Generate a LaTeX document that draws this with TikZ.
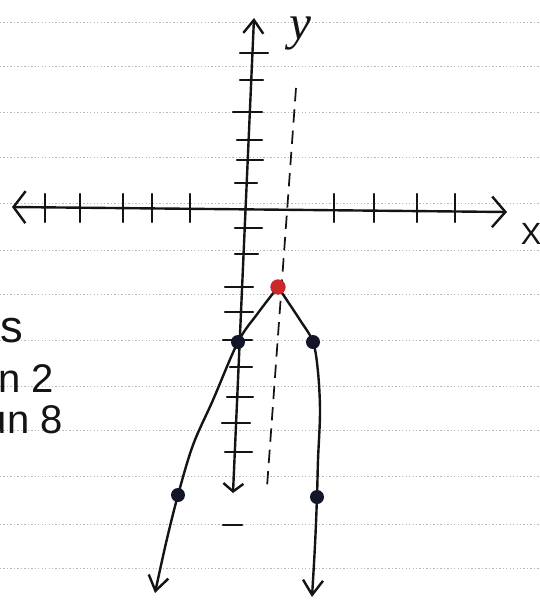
\documentclass[tikz,border=0pt]{standalone}
\usepackage{fontspec}
\setmainfont{Liberation Sans}
\newfontfamily\yfont{Liberation Serif}
\usetikzlibrary{arrows.meta}
\definecolor{inkc}{RGB}{20,20,22}
\definecolor{redpt}{RGB}{205,40,40}
\definecolor{navypt}{RGB}{18,22,40}
\begin{document}
\begin{tikzpicture}[x=0.75pt,y=-0.75pt,
  ink/.style={inkc, line width=1.8pt, line cap=round, line join=round},
  tickmark/.style={inkc, line width=1.6pt, line cap=round},
  paperline/.style={black!28, line width=0.7pt, dash pattern=on 1pt off 1.6pt},
  dashline/.style={inkc, line width=1.3pt, dash pattern=on 10pt off 6pt},
  dot/.style={circle, inner sep=0pt, minimum size=10.5pt},
  hand/.style={inkc, inner sep=0pt}
]
\useasboundingbox (0,0) rectangle (540,601);
\clip (0,0) rectangle (540,601);
\fill[white] (0,0) rectangle (540,601);

% lined paper
\foreach \yy in {22,66,112,157,203,250,294,340,386,430,476,524,568}
  \draw[paperline] (0,\yy) -- (540,\yy);

% axes
\coordinate (xl) at (12,207);
\coordinate (xr) at (507,212);
\coordinate (yt) at (254,18);
\coordinate (yb) at (233,493);
\draw[ink, {Straight Barb[length=9pt,width=24pt]}-{Straight Barb[length=10pt,width=23pt]}] (xl) -- (xr);
\draw[ink, {Straight Barb[length=6pt,width=15pt]}-{Straight Barb[length=10pt,width=15pt]}] (yb) -- (yt);

% x ticks
\foreach \xx in {45,80,123,152,190,334,374,417,455}
  \draw[tickmark] (\xx,194) -- (\xx,222);

% y ticks
\foreach \yy/\xa/\xb in {53/240/268, 80/240/263, 112/233/262, 140/237/262, 160/237/263, 183/235/257, 228/235/262, 254/235/258, 287/225/253, 312/225/253, 340/223/252, 367/230/252, 397/227/253, 423/222/250, 452/225/252}
  \draw[tickmark] (\xa,\yy) -- (\xb,\yy);

% axis of symmetry
\coordinate (dt) at (296,88);
\coordinate (db) at (267,487);
\draw[dashline] (dt) -- (db);

% labels
\node[hand, anchor=base] (ylab) at (300,39) {\fontsize{37}{37}\selectfont\yfont\itshape y};
\node[hand] (xlab) at (531,234) {\fontsize{23}{24}\selectfont X};
\node[hand, anchor=base west] (stxt) at (0,342) {\fontsize{34}{36}\selectfont s};
\node[hand, anchor=base west] (ntxt) at (-2,392) {\fontsize{30}{32}\selectfont n 2};
\node[hand, anchor=base east] (utxt) at (63,433) {\fontsize{30}{32}\selectfont un 8};
\draw[inkc, line width=2.2pt, line cap=round] (223,525) -- (242,525);

% points
\coordinate (v) at (278,287);
\coordinate (pa) at (238,342);
\coordinate (pb) at (313,342);
\coordinate (pc) at (178,495);
\coordinate (pd) at (317,497);
\coordinate (la) at (155,593);
\coordinate (ra) at (312,597);

% branches
\draw[ink, -{Straight Barb[length=11pt,width=15pt]}] plot[smooth, tension=0.55]
  coordinates {(v) (258,313) (pa) (213,400) (193,445) (pc) (166,543) (la)};
\draw[ink, -{Straight Barb[length=11pt,width=15pt]}] plot[smooth, tension=0.55]
  coordinates {(v) (300,320) (pb) (318,372) (320,412) (318,460) (pd) (315,545) (ra)};

% dots
\node[dot, fill=navypt] (da) at (pa) {};
\node[dot, fill=navypt] (db2) at (pb) {};
\node[dot, fill=navypt] (dc) at (pc) {};
\node[dot, fill=navypt] (dd) at (pd) {};
\node[dot, fill=redpt, minimum size=11.5pt] (dv) at (v) {};
\end{tikzpicture}
\end{document}
